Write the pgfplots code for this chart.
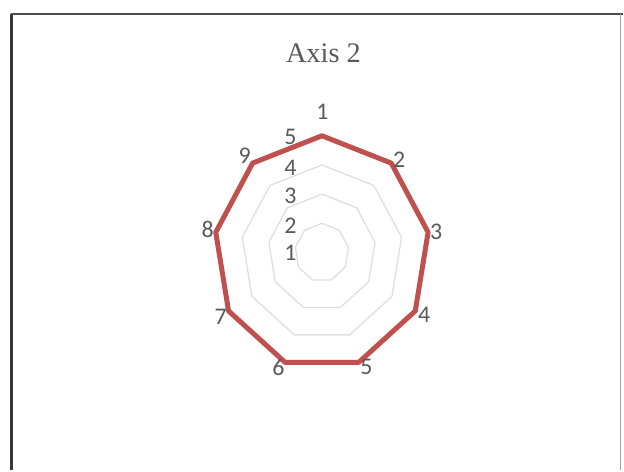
\documentclass[border=0pt]{standalone}
\usepackage{pgfplots}
\usepackage{pgfplotstable}
\pgfplotsset{compat=1.18}
\usepackage{fontspec}
\setmainfont{Liberation Serif}
\newfontfamily\labfont{Carlito}
\definecolor{txt}{HTML}{595959}
\definecolor{ser}{HTML}{C0504D}
\definecolor{grd}{HTML}{DEDEDE}
\pgfplotstableread{
cat angle value
1 90 5
2 50 5
3 10 5
4 -30 5
5 -70 5
6 -110 5
7 -150 5
8 -190 5
9 -230 5
1 90 5
}\series
\begin{document}
\begin{tikzpicture}
\begin{axis}[scale only axis, width=624bp, height=471bp, axis lines=none,
  xmin=-11.944, xmax=11.167, ymin=-7.453, ymax=8.650, clip=false,
  xtick=\empty, ytick=\empty]
\path (rel axis cs:0,0) rectangle (rel axis cs:1,1);
% frame
\draw[line width=3bp, color=black!78] (rel axis cs:0.0192,0) -- (rel axis cs:0.0192,0.9703);
\draw[line width=2.2bp, color=black!70] (rel axis cs:0.0170,0.9703) -- (rel axis cs:1,0.9703);
\draw[line width=1bp, color=black!35] (rel axis cs:0.9968,0) -- (rel axis cs:0.9968,0.9703);
% grid rings
\foreach \r in {2,3,4,5}{
\addplot[grd, line width=1.3bp, line join=round] table[x expr={(\r-1)*cos(\thisrow{angle})}, y expr={(\r-1)*sin(\thisrow{angle})}] {\series};
}
% series
\addplot[ser, line width=5bp, line join=round, line cap=round] table[x expr={(\thisrow{value}-1)*cos(\thisrow{angle})}, y expr={(\thisrow{value}-1)*sin(\thisrow{angle})}] {\series};
% title
\node[anchor=base, text=txt, font=\fontsize{28.5}{32}\selectfont] at (rel axis cs:0.5192,0.8662) {Axis 2};
% category labels
\begin{scope}[every node/.style={text=txt, font=\labfont\fontsize{24}{28}\selectfont, inner sep=0pt}]
\node at (rel axis cs:0.5176,0.7622) {1};
\node at (rel axis cs:0.6410,0.6603) {2};
\node at (rel axis cs:0.7003,0.5074) {3};
\node at (rel axis cs:0.6811,0.3312) {4};
\node at (rel axis cs:0.5881,0.2187) {5};
\node at (rel axis cs:0.4471,0.2187) {6};
\node at (rel axis cs:0.3542,0.3270) {7};
\node at (rel axis cs:0.3333,0.5117) {8};
\node at (rel axis cs:0.3926,0.6688) {9};
% radial tick labels
\node at (rel axis cs:0.4663,0.7091) {5};
\node at (rel axis cs:0.4663,0.6433) {4};
\node at (rel axis cs:0.4663,0.5839) {3};
\node at (rel axis cs:0.4663,0.5202) {2};
\node at (rel axis cs:0.4663,0.4628) {1};
\end{scope}
\end{axis}
\end{tikzpicture}
\end{document}
